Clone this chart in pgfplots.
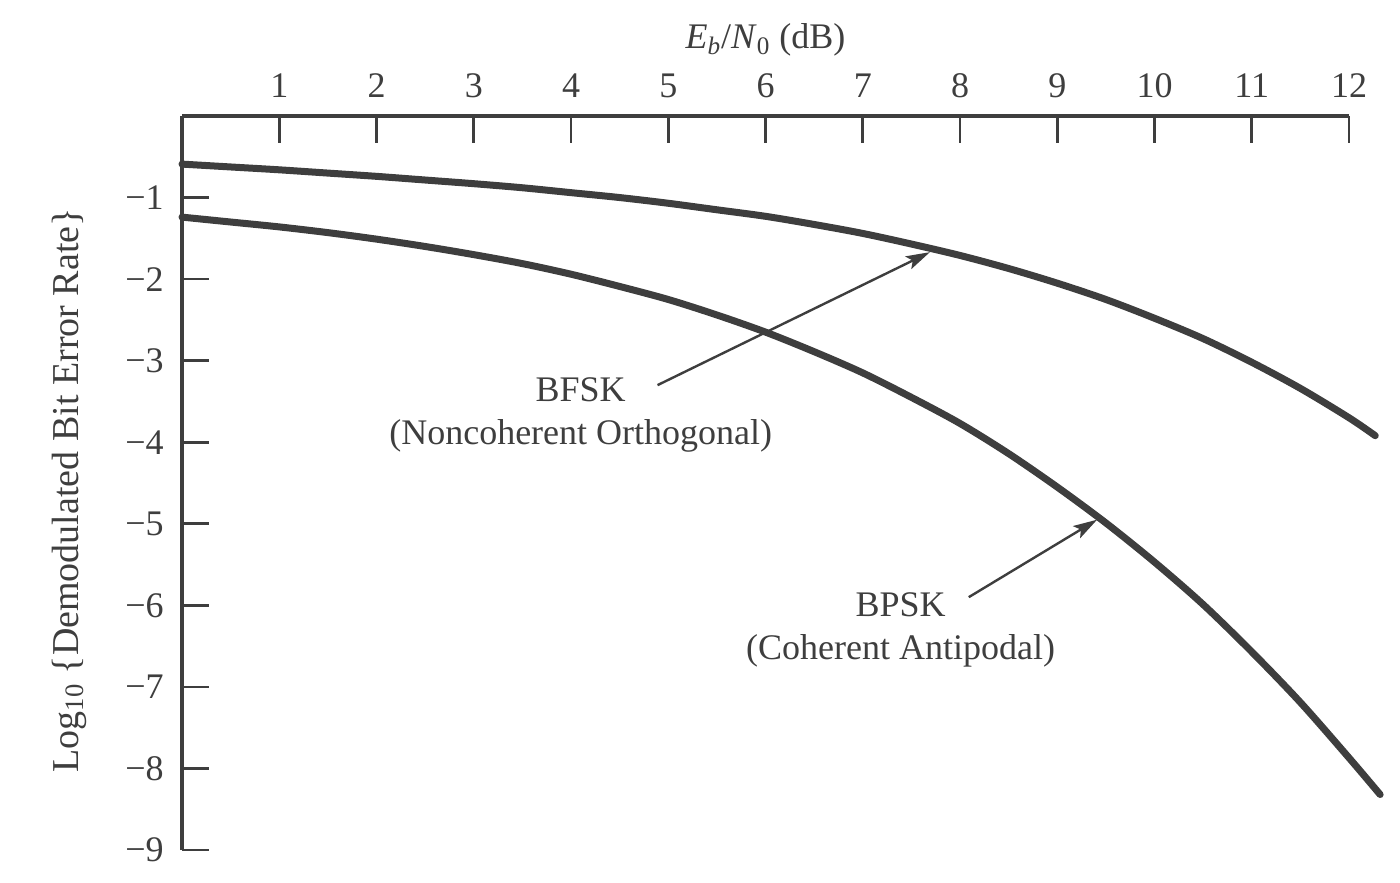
\documentclass[border=0pt]{standalone}
\usepackage{fontspec}
\setmainfont{Liberation Serif}
\usepackage{pgfplots}
\pgfplotsset{compat=1.18}
\usetikzlibrary{arrows.meta}
\definecolor{ink}{RGB}{62,62,62}

% log10 of the bit error rate against Eb/N0 (dB)
\pgfplotstableread{
x      y
0     -0.59
0.5   -0.625
1     -0.66
1.5   -0.70
2     -0.74
2.5   -0.785
3     -0.83
3.5   -0.88
4     -0.94
4.5   -1.00
5     -1.07
5.5   -1.15
6     -1.23
6.5   -1.33
7     -1.44
7.5   -1.57
8     -1.71
8.5   -1.87
9     -2.05
9.5   -2.25
10    -2.48
10.5  -2.73
11    -3.02
11.5  -3.34
12    -3.70
12.27 -3.92
}\bfsk

\pgfplotstableread{
x      y
0     -1.24
0.5   -1.30
1     -1.36
1.5   -1.43
2     -1.51
2.5   -1.60
3     -1.70
3.5   -1.81
4     -1.94
4.5   -2.09
5     -2.25
5.5   -2.44
6     -2.65
6.5   -2.89
7     -3.15
7.5   -3.45
8     -3.77
8.5   -4.14
9     -4.55
9.5   -4.99
10    -5.47
10.5  -5.99
11    -6.57
11.5  -7.19
12    -7.87
12.32 -8.32
}\bpsk

\begin{document}
\begin{tikzpicture}
\begin{axis}[
  name=ax,
  scale only axis,
  width=583.5pt, height=367pt,
  xmin=0, xmax=12, ymin=-9, ymax=0,
  clip=false,
  axis x line=top, axis y line=left,
  axis line style={-, line width=2pt, draw=ink},
  every outer x axis line/.append style={-},
  every outer y axis line/.append style={-},
  xtick={1,2,3,4,5,6,7,8,9,10,11,12},
  ytick={-9,-8,-7,-6,-5,-4,-3,-2,-1},
  yticklabels={−9,−8,−7,−6,−5,−4,−3,−2,−1},
  tick align=inside,
  major tick length=13.5pt,
  tick style={line width=1.3pt, draw=ink},
  every tick label/.append style={font=\fontsize{18}{21}\selectfont, text=ink},
  xticklabel style={anchor=base, inner sep=0pt, yshift=9pt},
  yticklabel style={anchor=east, inner sep=0pt, xshift=-9pt},
  /pgf/number format/assume math mode=true,
  xlabel={\textit{E}\textsubscript{\textit{b}}/\textit{N}\textsubscript{0} (dB)},
  ylabel={Log\textsubscript{10} \{Demodulated Bit Error Rate\}},
  every axis x label/.style={at={(axis description cs:0.5,1)}, anchor=base, yshift=33.5pt,
    font=\fontsize{18}{21}\selectfont, text=ink},
  every axis y label/.style={at={(axis description cs:-0.0891,0.49)}, anchor=base, rotate=90,
    font=\fontsize{19}{22}\selectfont, text=ink},
]
\addplot[ink, line width=3.5pt, line cap=round, smooth] table[x=x, y=y] {\bfsk};
\addplot[ink, line width=3.5pt, line cap=round, smooth] table[x=x, y=y] {\bpsk};

\node[align=center, font=\fontsize{18}{21.5}\selectfont, text=ink]
  at (axis cs:4.10,-3.67) {BFSK\\(Noncoherent Orthogonal)};
\node[align=center, font=\fontsize{18}{21.5}\selectfont, text=ink]
  at (axis cs:7.39,-6.30) {BPSK\\(Coherent Antipodal)};

\draw[ink, line width=1.2pt, -{Stealth[length=12pt, width=7pt, inset=2.5pt]}]
  (axis cs:4.89,-3.30) -- (axis cs:7.69,-1.67);
\draw[ink, line width=1.2pt, -{Stealth[length=12pt, width=7pt, inset=2.5pt]}]
  (axis cs:8.09,-5.90) -- (axis cs:9.41,-4.95);
\end{axis}
\pgfresetboundingbox
\path ([shift={(-91pt,-16pt)}]ax.south west) rectangle ++(700pt,441pt);
\end{tikzpicture}
\end{document}
